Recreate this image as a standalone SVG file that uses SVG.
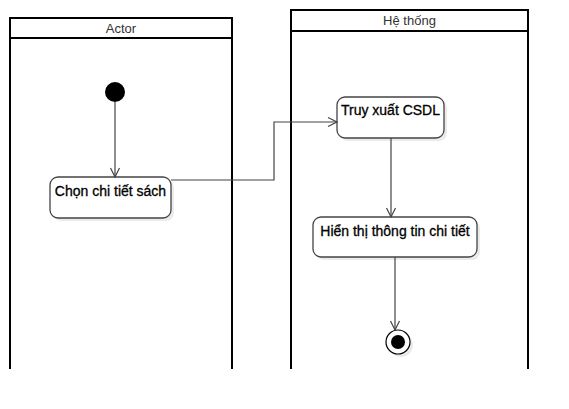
<svg xmlns="http://www.w3.org/2000/svg" width="569" height="409" viewBox="0 0 569 409">
<style>
.lane{fill:none;stroke:#000;stroke-width:2}
.hdr{font-family:"Liberation Sans",Arial,sans-serif;font-size:13px;fill:#333;text-anchor:middle}
.box{fill:#fff;stroke:#444;stroke-width:1.3}
.shadow{fill:#000;opacity:0.08}
.lbl{font-family:"Liberation Sans",Arial,sans-serif;font-size:14px;fill:#000;stroke:#000;stroke-width:0.3;text-anchor:middle}
.conn{fill:none;stroke:#444;stroke-width:1.2}
</style>
<defs>
<marker id="open" markerWidth="12" markerHeight="12" refX="10" refY="6" orient="auto" markerUnits="userSpaceOnUse">
<path d="M1,1.5 L10,6 L1,10.5" fill="none" stroke="#444" stroke-width="1.2"/>
</marker>
</defs>
<rect width="569" height="409" fill="#fff"/>
<g id="lane-actor">
<path class="lane" d="M10,369 V18 H232 V369 M10,38 H232"/>
<text class="hdr" x="121" y="32.5">Actor</text>
</g>
<g id="lane-system">
<path class="lane" d="M291,369 V10 H528 V369 M291,31 H528"/>
<text class="hdr" x="409.5" y="25">Hệ thống</text>
</g>
<g id="start">
<circle cx="115" cy="92" r="10" fill="#000"/>
</g>
<g id="chon">
<rect class="shadow" x="53" y="180" width="121" height="41" rx="8"/>
<rect class="box" x="50" y="177" width="121" height="41" rx="8"/>
<text class="lbl" x="110.5" y="196">Chọn chi tiết sách</text>
</g>
<g id="truyxuat">
<rect class="shadow" x="340" y="100" width="107" height="41" rx="8"/>
<rect class="box" x="337" y="97" width="107" height="41" rx="8"/>
<text class="lbl" x="390.5" y="115">Truy xuất CSDL</text>
</g>
<g id="hienthi">
<rect class="shadow" x="316" y="220" width="164" height="40" rx="8"/>
<rect class="box" x="313" y="217" width="164" height="40" rx="8"/>
<text class="lbl" x="395" y="236">Hiển thị thông tin chi tiết</text>
</g>
<g id="end">
<circle cx="401" cy="345" r="12" fill="#000" opacity="0.08"/>
<circle cx="398" cy="342" r="12" fill="#fff" stroke="#000" stroke-width="1.2"/>
<circle cx="398" cy="342" r="7" fill="#000"/>
</g>
<g id="connectors">
<path class="conn" d="M115,102 V177" marker-end="url(#open)"/>
<path class="conn" d="M171,180 H274 V122 H337" marker-end="url(#open)"/>
<path class="conn" d="M391,138 V217" marker-end="url(#open)"/>
<path class="conn" d="M395,257 V330" marker-end="url(#open)"/>
</g>
</svg>
